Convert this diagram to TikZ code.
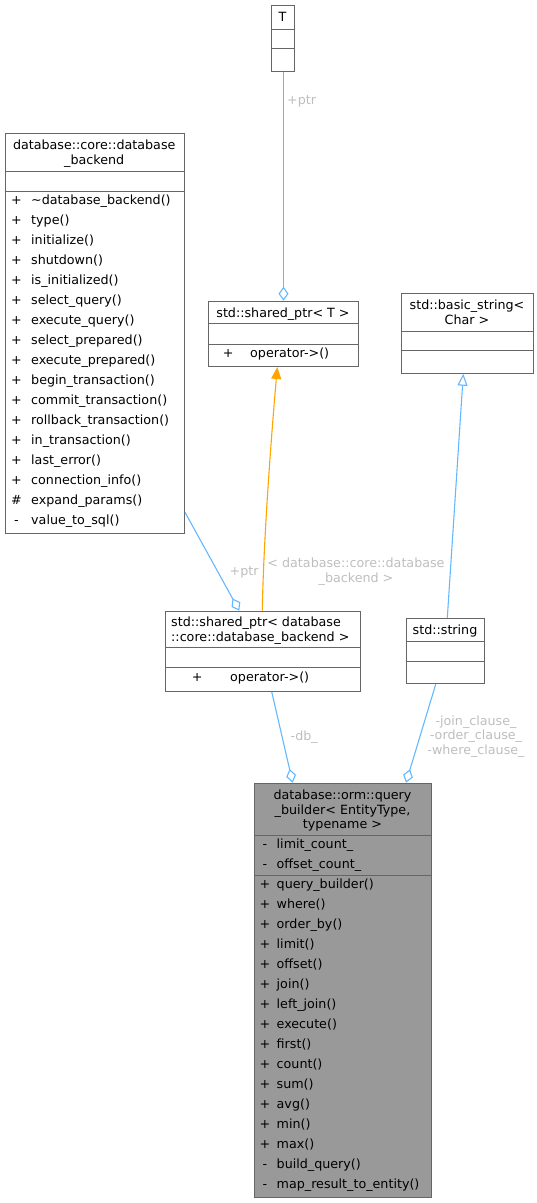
\documentclass[tikz,border=0pt]{standalone}
\usepackage{fontspec}
\setmainfont{DejaVu Sans}
\usetikzlibrary{arrows.meta,calc}
\definecolor{edgeblue}{HTML}{63B8FF}
\definecolor{boxline}{HTML}{666666}
\definecolor{focusfill}{HTML}{999999}
\definecolor{lblgray}{HTML}{BEBEBE}
\definecolor{inhorange}{HTML}{FFA500}
\tikzset{
  umlbox/.style={draw=boxline, line width=1pt, fill=white, inner sep=0pt, anchor=north west},
  divider/.style={draw=boxline, line width=1pt},
  txt/.style={anchor=base, inner sep=0pt, font=\fontsize{12.7}{14.5}\selectfont},
  txtl/.style={txt, anchor=base west},
  lbl/.style={txt, text=lblgray},
  lbll/.style={txtl, text=lblgray},
  aggr/.style={draw=edgeblue, line width=1.1pt, -{Diamond[open, fill=white, length=14pt, width=10pt]}},
  inh/.style={draw=inhorange, line width=1.1pt, -{Triangle[length=12pt, width=10pt]}},
  realz/.style={draw=edgeblue, line width=1.1pt, -{Triangle[open, fill=white, length=12pt, width=10pt]}}
}
\begin{document}
\begin{tikzpicture}[x=1pt,y=-1pt]
\useasboundingbox (0,0) rectangle (537,1203);

% ---------- T ----------
\node[umlbox, minimum width=23pt, minimum height=66pt] (T) at (271,4.7) {};
\draw[divider] (T.west |- 0,29) -- (T.east |- 0,29);
\draw[divider] (T.west |- 0,48.7) -- (T.east |- 0,48.7);
\node[txt] (Tt) at (282.5,21) {T};

% ---------- database_backend ----------
\node[umlbox, minimum width=179.5pt, minimum height=400pt] (dbb) at (4.5,132.7) {};
\draw[divider] (dbb.west |- 0,171) -- (dbb.east |- 0,171);
\draw[divider] (dbb.west |- 0,191) -- (dbb.east |- 0,191);
\node[txt] (dbbt1) at (94.2,149.5) {database::core::database};
\node[txt] (dbbt2) at (94.2,164.5) {\_backend};
\foreach \s/\m [count=\k from 0] in {
  +/\textasciitilde database\_backend(),
  +/type(),
  +/initialize(),
  +/shutdown(),
  +/is\_initialized(),
  +/select\_query(),
  +/execute\_query(),
  +/select\_prepared(),
  +/execute\_prepared(),
  +/begin\_transaction(),
  +/commit\_transaction(),
  +/rollback\_transaction(),
  +/in\_transaction(),
  +/last\_error(),
  +/connection\_info(),
  \#/expand\_params(),
  -/value\_to\_sql()} {
  \node[txt] (dbbs\k) at (16.5,204.5+20*\k) {\s};
  \node[txtl] (dbbm\k) at (31,204.5+20*\k) {\m};
}

% ---------- std::shared_ptr< T > ----------
\node[umlbox, minimum width=150.6pt, minimum height=65.3pt] (spT) at (207.7,300.7) {};
\draw[divider] (spT.west |- 0,323.5) -- (spT.east |- 0,323.5);
\draw[divider] (spT.west |- 0,344.5) -- (spT.east |- 0,344.5);
\node[txt] (spTt) at (283,317) {std::shared\_ptr< T >};
\node[txt] (spTs) at (228.3,357.2) {+};
\node[txtl] (spTm) at (250,357.2) {operator->()};

% ---------- std::basic_string< Char > ----------
\node[umlbox, minimum width=132.6pt, minimum height=80pt] (bs) at (400.7,292.7) {};
\draw[divider] (bs.west |- 0,331) -- (bs.east |- 0,331);
\draw[divider] (bs.west |- 0,350.7) -- (bs.east |- 0,350.7);
\node[txt] (bst1) at (467,309.5) {std::basic\_string<};
\node[txt] (bst2) at (467,324.5) {Char >};

% ---------- std::shared_ptr< database::core::database_backend > ----------
\node[umlbox, minimum width=195pt, minimum height=80pt] (spdb) at (165,610.7) {};
\draw[divider] (spdb.west |- 0,647.7) -- (spdb.east |- 0,647.7);
\draw[divider] (spdb.west |- 0,667.7) -- (spdb.east |- 0,667.7);
\node[txtl] (spdbt1) at (171,626.8) {std::shared\_ptr< database};
\node[txtl] (spdbt2) at (171,641.2) {::core::database\_backend >};
\node[txt] (spdbs) at (197.3,681) {+};
\node[txtl] (spdbm) at (230,681) {operator->()};

% ---------- std::string ----------
\node[umlbox, minimum width=78.6pt, minimum height=65.3pt] (str) at (405.7,618) {};
\draw[divider] (str.west |- 0,641) -- (str.east |- 0,641);
\draw[divider] (str.west |- 0,661.3) -- (str.east |- 0,661.3);
\node[txt] (strt) at (445,634.5) {std::string};

% ---------- query_builder ----------
\node[umlbox, fill=focusfill, minimum width=177pt, minimum height=414.6pt] (qb) at (254,782.7) {};
\draw[divider] (qb.west |- 0,835) -- (qb.east |- 0,835);
\draw[divider] (qb.west |- 0,875) -- (qb.east |- 0,875);
\node[txt] (qbt1) at (342.5,799.5) {database::orm::query};
\node[txt] (qbt2) at (342.5,814.5) {\_builder< EntityType,};
\node[txt] (qbt3) at (342.5,828.8) {typename >};
\node[txt] (qba0s) at (265,848.8) {-};
\node[txtl] (qba0) at (276.5,848.8) {limit\_count\_};
\node[txt] (qba1s) at (265,868.8) {-};
\node[txtl] (qba1) at (276.5,868.8) {offset\_count\_};
\foreach \s/\m [count=\k from 0] in {
  +/query\_builder(),
  +/where(),
  +/order\_by(),
  +/limit(),
  +/offset(),
  +/join(),
  +/left\_join(),
  +/execute(),
  +/first(),
  +/count(),
  +/sum(),
  +/avg(),
  +/min(),
  +/max(),
  -/build\_query(),
  -/map\_result\_to\_entity()} {
  \node[txt] (qbs\k) at (265,888.8+20*\k) {\s};
  \node[txtl] (qbm\k) at (276.5,888.8+20*\k) {\m};
}

% ---------- connectors ----------
\draw[aggr] ([xshift=0.5pt]T.south) -- ([xshift=0.5pt]T.south |- spT.north);
\node[lbll] (l1) at (287,104.5) {+ptr};

\draw[aggr] (dbb.east |- 0,512.3) -- ([xshift=74.3pt]spdb.north west);
\node[lbll] (l2) at (229.5,575.2) {+ptr};

\draw[inh] ([xshift=97.3pt]spdb.north west) .. controls (263.5,540) and (271,440) .. ([xshift=69.6pt]spT.south west);
\node[lbl] (l3a) at (356,567.8) {< database::core::database};
\node[lbl] (l3b) at (356,582.2) {\_backend >};

\draw[realz] ([xshift=41.6pt]str.north west) -- ([xshift=62.6pt]bs.south west);

\draw[aggr] ([xshift=106.7pt]spdb.south west) -- ([xshift=38.7pt]qb.north west);
\node[lbll] (l4) at (290.5,740.2) {-db\_};

\draw[aggr] ([xshift=30pt]str.south west) -- ([xshift=152pt]qb.north west);
\node[lbl] (l5a) at (476,725.2) {-join\_clause\_};
\node[lbl] (l5b) at (476,739.8) {-order\_clause\_};
\node[lbl] (l5c) at (476,754.5) {-where\_clause\_};
\end{tikzpicture}
\end{document}
